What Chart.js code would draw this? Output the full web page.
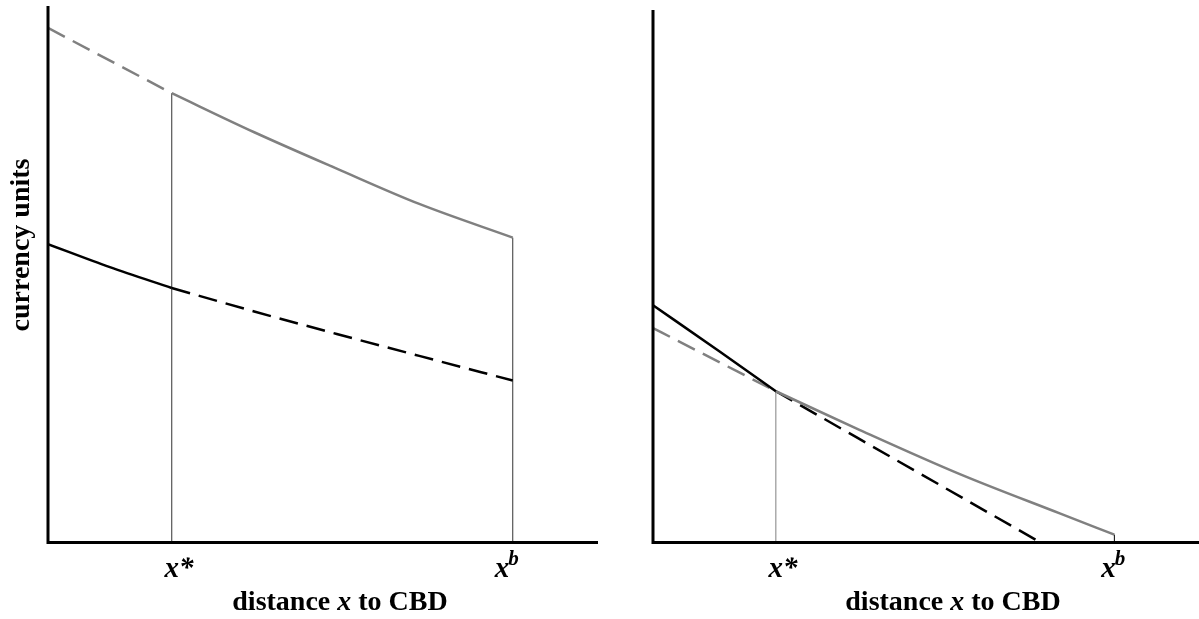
<!DOCTYPE html>
<html>
<head>
<meta charset="utf-8">
<script src="https://cdn.jsdelivr.net/npm/chart.js@4/dist/chart.umd.min.js"></script>
<style>
html,body{margin:0;padding:0;background:#fff;}
#wrap{position:relative;width:1199px;height:619px;overflow:hidden;}
#left{position:absolute;left:0;top:0;}
#right{position:absolute;left:600px;top:0;}
</style>
</head>
<body>
<div id="wrap">
<canvas id="left" width="600" height="619"></canvas>
<canvas id="right" width="599" height="619"></canvas>
</div>
<script>
// ---- shared axis text ----
const yTitle = 'currency units';
const xTitleParts = ['distance ', 'x', ' to CBD'];
const tickPositions = [22.5, 84.5];          // x*, x^b
const tickLabels = [['x', '*'], ['x', 'b']]; // base, marker/superscript

// ---- left panel ----
const leftX_grayDashed = [0, 22.5];
const leftY_grayDashed = [95.9, 83.7];
const leftX_graySolid = [22.5, 37.5, 52.5, 67.5, 84.5];
const leftY_graySolid = [83.7, 76.4, 69.6, 63.0, 56.7];
const leftX_blackSolid = [0, 11.25, 22.5];
const leftY_blackSolid = [55.5, 51.2, 47.3];
const leftX_blackDashed = [22.5, 37.5, 52.5, 67.5, 84.5];
const leftY_blackDashed = [47.3, 42.9, 38.7, 34.6, 30.0];
const leftDropTops = [83.7, 56.7];

// ---- right panel ----
const rightX_blackSolid = [0, 12.2, 22.5];
const rightY_blackSolid = [44.4, 35.7, 28.2];
const rightX_grayDashed = [0, 22.5];
const rightY_grayDashed = [40.1, 28.2];
const rightX_graySolid = [22.5, 37.9, 56.2, 74.5, 84.5];
const rightY_graySolid = [28.2, 20.9, 12.6, 5.2, 1.2];
const rightX_blackDashed = [22.5, 70.5];
const rightY_blackDashed = [28.2, 0];
const rightDropTops = [28.2, 1.2];

const FONT = '"Liberation Serif", "Times New Roman", serif';
const GRAY = '#808080';
const DASH = [19, 9];

function pts(xs, ys) { return xs.map((x, i) => ({x: x, y: ys[i]})); }

function curve(data, color, dashed) {
  return {
    data: data, borderColor: color, borderWidth: 2.5, borderDash: dashed ? DASH : [],
    pointRadius: 0, fill: false, cubicInterpolationMode: 'monotone', borderCapStyle: 'butt'
  };
}
function drop(x, top, color) {
  return {
    data: [{x: x, y: 0}, {x: x, y: top}], borderColor: color, borderWidth: 1,
    pointRadius: 0, fill: false
  };
}

const axisPlugin = {
  id: 'axisText',
  afterDraw(chart, args, opts) {
    const ctx = chart.ctx;
    const a = chart.chartArea;
    const xs = chart.scales.x;
    ctx.save();
    // axes
    ctx.strokeStyle = '#000';
    ctx.lineWidth = 3;
    ctx.beginPath();
    ctx.moveTo(a.left, a.top);
    ctx.lineTo(a.left, a.bottom + 1.5);
    ctx.lineTo(a.right, a.bottom + 1.5);
    ctx.stroke();
    // tick labels
    ctx.fillStyle = '#000';
    ctx.textBaseline = 'alphabetic';
    tickPositions.forEach((v, i) => {
      const px = xs.getPixelForValue(v);
      const base = tickLabels[i][0], mark = tickLabels[i][1];
      ctx.font = 'italic bold 29px ' + FONT;
      const wb = ctx.measureText(base).width;
      ctx.textAlign = 'left';
      if (mark === '*') {
        ctx.fillText(base, px - wb / 2, 577);
        ctx.fillText(mark, px + wb / 2, 577);
      } else {
        const start = px - opts.supShift;
        ctx.fillText(base, start, 577);
        ctx.font = 'italic bold 21px ' + FONT;
        ctx.fillText(mark, start + wb - 1, 565);
      }
    });
    // x title
    const fonts = ['bold 28px ' + FONT, 'italic bold 28px ' + FONT, 'bold 28px ' + FONT];
    let total = 0;
    const widths = xTitleParts.map((t, i) => { ctx.font = fonts[i]; const w = ctx.measureText(t).width; total += w; return w; });
    let cx = a.left + opts.titleOffset - total / 2;
    ctx.textAlign = 'left';
    xTitleParts.forEach((t, i) => { ctx.font = fonts[i]; ctx.fillText(t, cx, 610); cx += widths[i]; });
    // y title
    ctx.save();
    ctx.translate(opts.yTitleX, opts.yTitleY);
    ctx.rotate(-Math.PI / 2);
    ctx.font = 'bold 28px ' + FONT;
    ctx.textAlign = 'center';
    ctx.textBaseline = 'alphabetic';
    ctx.fillText(yTitle, 0, 0);
    ctx.restore();
    ctx.restore();
  }
};

function makeChart(id, datasets, padding, opts) {
  return new Chart(document.getElementById(id), {
    type: 'line',
    data: {datasets: datasets},
    options: {
      responsive: false, animation: false, devicePixelRatio: 1,
      layout: {padding: padding},
      plugins: {legend: {display: false}, tooltip: {enabled: false}, axisText: opts},
      scales: {
        x: {type: 'linear', min: 0, max: 100, display: false},
        y: {type: 'linear', min: 0, max: 100, display: false}
      }
    },
    plugins: [axisPlugin]
  });
}

makeChart('left', [
  curve(pts(leftX_graySolid, leftY_graySolid), GRAY, false),
  curve(pts(leftX_grayDashed, leftY_grayDashed), GRAY, true),
  curve(pts(leftX_blackSolid, leftY_blackSolid), '#000', false),
  curve(pts(leftX_blackDashed, leftY_blackDashed), '#000', true),
  drop(tickPositions[0], leftDropTops[0], '#333'),
  drop(tickPositions[1], leftDropTops[1], '#333')
], {left: 48, top: 6, right: 2, bottom: 78}, {titleOffset: 292, yTitleX: 29, yTitleY: 245, supShift: 18});

makeChart('right', [
  curve(pts(rightX_blackSolid, rightY_blackSolid), '#000', false),
  curve(pts(rightX_graySolid, rightY_graySolid), GRAY, false),
  curve(pts(rightX_blackDashed, rightY_blackDashed), '#000', true),
  curve(pts(rightX_grayDashed, rightY_grayDashed), GRAY, true),
  drop(tickPositions[0], rightDropTops[0], GRAY),
  drop(tickPositions[1], rightDropTops[1], '#000')
], {left: 53, top: 10, right: 0, bottom: 78}, {titleOffset: 300, yTitleX: 633, yTitleY: 241, supShift: 13});
</script>
</body>
</html>
